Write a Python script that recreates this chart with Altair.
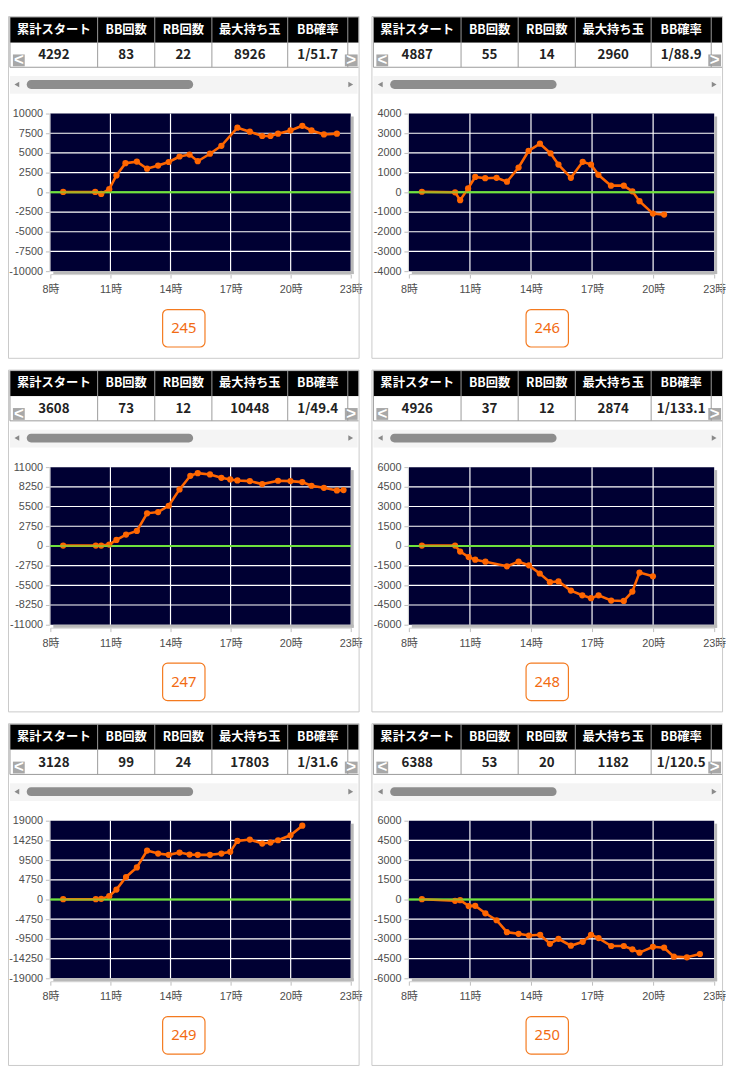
import altair as alt
import pandas as pd

# ---------------- data ----------------
panel_ids = [245, 246, 247, 248, 249, 250]
header_labels = ["累計スタート", "BB回数", "RB回数", "最大持ち玉", "BB確率"]
total_start = ["4292", "4887", "3608", "4926", "3128", "6388"]
bb_count = ["83", "55", "73", "37", "99", "53"]
rb_count = ["22", "14", "12", "12", "24", "20"]
max_balls = ["8926", "2960", "10448", "2874", "17803", "1182"]
bb_prob = ["1/51.7", "1/88.9", "1/49.4", "1/133.1", "1/31.6", "1/120.5"]

x_ticks = [8, 11, 14, 17, 20, 23]
y_ticks_245 = [-10000, -7500, -5000, -2500, 0, 2500, 5000, 7500, 10000]
y_ticks_246 = [-4000, -3000, -2000, -1000, 0, 1000, 2000, 3000, 4000]
y_ticks_247 = [-11000, -8250, -5500, -2750, 0, 2750, 5500, 8250, 11000]
y_ticks_248 = [-6000, -4500, -3000, -1500, 0, 1500, 3000, 4500, 6000]
y_ticks_249 = [-19000, -14250, -9500, -4750, 0, 4750, 9500, 14250, 19000]
y_ticks_250 = [-6000, -4500, -3000, -1500, 0, 1500, 3000, 4500, 6000]

hours_245 = [8.64, 10.24, 10.54, 10.94, 11.30, 11.75, 12.32, 12.83, 13.38, 13.91, 14.45, 14.95, 15.36,
             15.97, 16.54, 17.34, 17.96, 18.58, 18.99, 19.37, 19.99, 20.58, 21.04, 21.66, 22.31]
values_245 = [50, 50, -200, 400, 2150, 3700, 3900, 3000, 3400, 3850, 4550, 4800, 3950,
              4900, 5900, 8200, 7700, 7150, 7150, 7450, 7850, 8450, 7850, 7350, 7450]

hours_246 = [8.64, 10.27, 10.52, 10.91, 11.26, 11.75, 12.31, 12.82, 13.39, 13.88, 14.44, 14.96,
             15.35, 15.96, 16.54, 16.95, 17.31, 17.93, 18.56, 18.98, 19.33, 19.99, 20.54]
values_246 = [30, 0, -400, 200, 780, 720, 740, 540, 1260, 2100, 2470, 1980,
              1410, 740, 1550, 1410, 890, 340, 340, 50, -450, -1080, -1130]

hours_247 = [8.64, 10.27, 10.54, 10.94, 11.30, 11.78, 12.32, 12.83, 13.38, 13.91, 14.45, 14.99, 15.36,
             15.97, 16.54, 16.98, 17.34, 17.96, 18.58, 19.37, 19.99, 20.58, 21.04, 21.66, 22.31, 22.64]
values_247 = [50, 50, 50, 190, 840, 1580, 2090, 4550, 4730, 5610, 7890, 9790, 10160,
              9980, 9510, 9280, 9140, 9050, 8630, 9100, 9050, 8910, 8400, 8120, 7750, 7800]

hours_248 = [8.64, 10.27, 10.52, 10.94, 11.26, 11.76, 12.82, 13.39, 13.90, 14.43, 14.93,
             15.35, 15.96, 16.52, 16.95, 17.32, 17.94, 18.56, 18.98, 19.33, 19.99]
values_248 = [30, 30, -430, -850, -1050, -1200, -1550, -1200, -1480, -2100, -2760,
              -2700, -3400, -3760, -3980, -3760, -4160, -4190, -3480, -2030, -2310]

hours_249 = [8.64, 10.27, 10.54, 10.94, 11.30, 11.78, 12.32, 12.83, 13.38, 13.91, 14.45, 14.95,
             15.36, 15.97, 16.54, 16.98, 17.34, 17.96, 18.58, 18.99, 19.37, 19.99, 20.58]
values_249 = [80, 80, 160, 800, 2390, 5430, 7740, 11810, 11090, 10770, 11330, 10850,
              10770, 10770, 11090, 11490, 14130, 14450, 13490, 13730, 14290, 15480, 17800]

hours_250 = [8.64, 10.27, 10.52, 10.94, 11.26, 11.76, 12.31, 12.82, 13.39, 13.90, 14.45, 14.93, 15.35,
             15.96, 16.54, 16.95, 17.32, 17.94, 18.56, 18.98, 19.33, 19.99, 20.54, 21.02, 21.66, 22.30]
values_250 = [25, -100, -50, -500, -480, -1050, -1580, -2490, -2610, -2740, -2690, -3370, -2990,
              -3520, -3220, -2690, -2940, -3540, -3540, -3790, -4050, -3600, -3670, -4350, -4400, -4150]

series_hours = [hours_245, hours_246, hours_247, hours_248, hours_249, hours_250]
series_values = [values_245, values_246, values_247, values_248, values_249, values_250]
y_tick_sets = [y_ticks_245, y_ticks_246, y_ticks_247, y_ticks_248, y_ticks_249, y_ticks_250]

# ---------------- layout / style ----------------
PANEL_W = 357
PANEL_H = 348
PLOT_TOP = 99
PLOT_H = 160
PLOT_RIGHT = 348
COL_EDGES = [2, 91, 149, 207, 284, 345]
LEFT_OFFSET = [43, 38]
JP = "Noto Sans CJK JP"
ORANGE = "#ff6600"
GREEN = "#6fe23c"


def px_enc():
    return dict(x=alt.X("x:Q", scale=None), y=alt.Y("y:Q", scale=None))


def make_panel(i):
    L = LEFT_OFFSET[i % 2]
    W = PLOT_RIGHT - L
    H = PLOT_H

    def fx(X):
        return X - L

    def fy(Y):
        return Y - PLOT_TOP

    rects = []

    def rect(x1, x2, y1, y2, fill, stroke="transparent"):
        rects.append({"x": fx(x1), "x2": fx(x2), "y": fy(y1), "y2": fy(y2),
                      "fill": fill, "stroke": stroke})

    rect(PLOT_RIGHT, PLOT_RIGHT + 3, PLOT_TOP + 3, PLOT_TOP + H + 3, "#b9b9b9")
    rect(L + 3, PLOT_RIGHT + 3, PLOT_TOP + H, PLOT_TOP + H + 3, "#b9b9b9")
    rect(2, PANEL_W - 1, 1, 27, "#000000")
    rect(2, PANEL_W - 1, 27, 52, "#ffffff")
    rect(2, PANEL_W - 2, 61, 79, "#f4f4f4")
    rect(5, 17, 39, 51, "#a8a8a8")
    rect(PANEL_W - 15, PANEL_W - 2, 39, 51, "#a8a8a8")
    rect_layer = alt.Chart(pd.DataFrame(rects)).mark_rect(strokeWidth=1).encode(
        x=alt.X("x:Q", scale=None), x2="x2:Q",
        y=alt.Y("y:Q", scale=None), y2="y2:Q",
        fill=alt.Fill("fill:N", scale=None),
        stroke=alt.Stroke("stroke:N", scale=None),
    )

    lines = []
    for X in COL_EDGES:
        lines.append({"x": fx(X), "x2": fx(X), "y": fy(1), "y2": fy(52)})
    lines.append({"x": fx(2), "x2": fx(PANEL_W - 1), "y": fy(52), "y2": fy(52)})
    lines.append({"x": fx(2), "x2": fx(PANEL_W - 1), "y": fy(1), "y2": fy(1)})
    grid_tbl = alt.Chart(pd.DataFrame(lines)).mark_rule(color="#9a9a9a", strokeWidth=1).encode(
        x=alt.X("x:Q", scale=None), x2="x2:Q",
        y=alt.Y("y:Q", scale=None), y2="y2:Q",
    )

    centers = [fx((COL_EDGES[k] + COL_EDGES[k + 1]) / 2) for k in range(5)]
    head_df = pd.DataFrame({"x": centers, "y": fy(14), "t": header_labels})
    head_layer = alt.Chart(head_df).mark_text(
        font=JP, fontSize=12.5, fontWeight="bold", color="#ffffff", align="center", baseline="middle"
    ).encode(text="t:N", **px_enc())

    row_vals = [total_start[i], bb_count[i], rb_count[i], max_balls[i], bb_prob[i]]
    body_df = pd.DataFrame({"x": centers, "y": fy(40), "t": row_vals})
    body_layer = alt.Chart(body_df).mark_text(
        font=JP, fontSize=13.5, fontWeight="bold", color="#222222", align="center", baseline="middle"
    ).encode(text="t:N", **px_enc())

    arrow_df = pd.DataFrame({"x": [fx(11), fx(PANEL_W - 8.5)], "y": fy(45), "t": ["<", ">"]})
    arrow_layer = alt.Chart(arrow_df).mark_text(
        font="Liberation Sans", fontSize=17, fontWeight="bold", color="#ffffff",
        align="center", baseline="middle"
    ).encode(text="t:N", **px_enc())

    thumb_df = pd.DataFrame({"x": [fx(19)], "x2": [fx(188)], "y": [fy(65)], "y2": [fy(74)]})
    thumb_layer = alt.Chart(thumb_df).mark_rect(cornerRadius=4.5, color="#8d8d8d").encode(
        x=alt.X("x:Q", scale=None), x2="x2:Q", y=alt.Y("y:Q", scale=None), y2="y2:Q"
    )

    tri_df = pd.DataFrame({"x": [fx(9), fx(PANEL_W - 9)], "y": fy(69.5),
                           "shape": ["triangle-left", "triangle-right"]})
    tri_layer = alt.Chart(tri_df).mark_point(filled=True, size=32, color="#8a8a8a", opacity=1).encode(
        shape=alt.Shape("shape:N", scale=None), **px_enc()
    )

    border_df = pd.DataFrame({"x": [fx(0.5)], "x2": [fx(PANEL_W - 0.5)],
                              "y": [fy(0.5)], "y2": [fy(PANEL_H - 0.5)]})
    border_layer = alt.Chart(border_df).mark_rect(
        fill="transparent", stroke="#c9c9c9", strokeWidth=1
    ).encode(x=alt.X("x:Q", scale=None), x2="x2:Q", y=alt.Y("y:Q", scale=None), y2="y2:Q")

    bx = PANEL_W / 2
    btn_df = pd.DataFrame({"x": [fx(bx - 21.5)], "x2": [fx(bx + 21.5)], "y": [fy(298)], "y2": [fy(336)]})
    btn_layer = alt.Chart(btn_df).mark_rect(
        cornerRadius=5, fill="#ffffff", stroke="#f47a1f", strokeWidth=1.2
    ).encode(x=alt.X("x:Q", scale=None), x2="x2:Q", y=alt.Y("y:Q", scale=None), y2="y2:Q")
    btn_txt_df = pd.DataFrame({"x": [fx(bx)], "y": [fy(317)], "t": [str(panel_ids[i])]})
    btn_txt = alt.Chart(btn_txt_df).mark_text(
        font="Noto Sans", fontSize=15, color="#f26b12", align="center", baseline="middle"
    ).encode(text="t:N", **px_enc())

    # ---------------- line chart ----------------
    yt = y_tick_sets[i]
    M = yt[-1]
    xsc = alt.Scale(domain=[8, 23], nice=False, zero=False)
    ysc = alt.Scale(domain=[-M, M], nice=False, zero=False)
    x_axis = alt.Axis(values=x_ticks, labelExpr="datum.value + '時'", title=None, grid=False,
                      orient="bottom", offset=3, tickSize=4, labelPadding=6,
                      domainColor="#cfcfcf", tickColor="#bdbdbd",
                      labelFont="Liberation Sans, Noto Sans CJK JP", labelFontSize=11,
                      labelColor="#4d4d4d", labelFlush=False, labelOverlap=False)
    y_axis = alt.Axis(values=yt, labelExpr="'' + datum.value", title=None, grid=False,
                      orient="left", offset=1, tickSize=4, labelPadding=3,
                      domainColor="#cfcfcf", tickColor="#bdbdbd",
                      labelFont="Liberation Sans", labelFontSize=11,
                      labelColor="#4d4d4d", labelFlush=False, labelOverlap=False)

    def X(field="hour"):
        return alt.X(f"{field}:Q", scale=xsc, axis=x_axis)

    def Y(field="value"):
        return alt.Y(f"{field}:Q", scale=ysc, axis=y_axis)

    df = pd.DataFrame({"hour": series_hours[i], "value": series_values[i]})
    base = alt.Chart(df)
    line = base.mark_line(color=ORANGE, strokeWidth=2.6).encode(x=X(), y=Y())
    pts = base.mark_circle(color=ORANGE, size=40, opacity=1).encode(x=X(), y=Y())

    vgrid = alt.Chart(pd.DataFrame({"hour": x_ticks[1:-1]})).mark_rule(
        color="#ffffff", strokeWidth=1.2).encode(x=X())
    hgrid = alt.Chart(pd.DataFrame({"value": yt[1:-1]})).mark_rule(
        color="#ffffff", strokeWidth=1.2).encode(y=Y())
    zero = alt.Chart(pd.DataFrame({"value": [0]})).mark_rule(
        color=GREEN, strokeWidth=2).encode(y=Y())
    zero_top = alt.Chart(pd.DataFrame({"value": [0]})).mark_rule(
        color=GREEN, strokeWidth=2, opacity=0.6).encode(y=Y())

    return alt.layer(
        rect_layer, grid_tbl, head_layer, body_layer, arrow_layer, thumb_layer, tri_layer,
        vgrid, hgrid, zero, line, pts, zero_top, border_layer, btn_layer, btn_txt
    ).properties(width=W, height=H)


rows = [alt.hconcat(make_panel(2 * r), make_panel(2 * r + 1), spacing=9) for r in range(3)]
chart = alt.vconcat(*rows, spacing=11).properties(padding=0).configure_view(
    stroke=None, fill="#000033"
)

chart.save("out.html", embed_options={"renderer": "svg", "actions": False})
